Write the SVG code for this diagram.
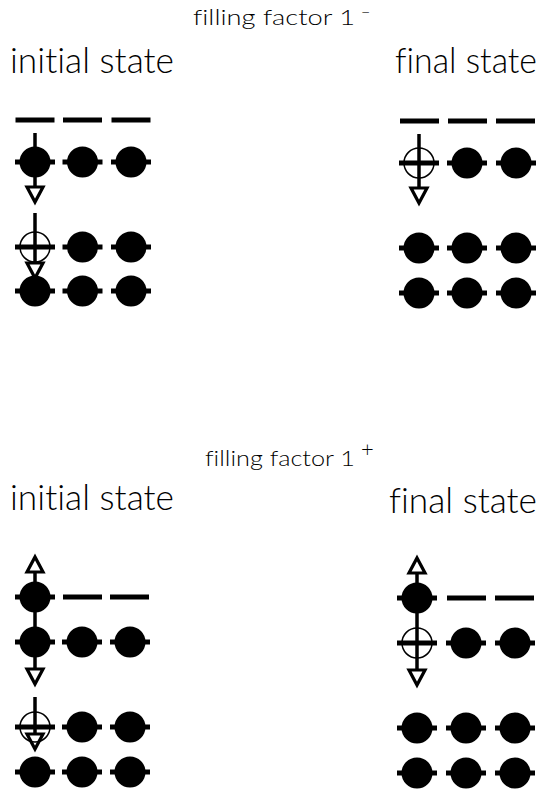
<svg xmlns="http://www.w3.org/2000/svg" xmlns:xlink="http://www.w3.org/1999/xlink" width="548" height="793" viewBox="0 0 548 793">
<style>
text{font-family:"Lato","DejaVu Sans","Liberation Sans",sans-serif;font-weight:300;fill:#000;font-variant-ligatures:none;font-feature-settings:"liga" 0}
.title{font-size:21px}
.state{font-size:36px}
.stub{stroke:#000;stroke-width:5}
.line{stroke:#000;stroke-width:3.5;fill:none}
.tri{stroke:#000;stroke-width:3.2;fill:#fff;stroke-linejoin:miter}
</style>
<defs>
<g id="particle"><line class="stub" x1="-20" y1="0" x2="20" y2="0"/><circle r="15.5" fill="#000"/></g>
<g id="hole"><line class="stub" x1="-20" y1="0" x2="20" y2="0"/><circle r="15" fill="none" stroke="#000" stroke-width="1.5"/></g>
<rect id="bar" x="-19.5" y="-2.5" width="39" height="5" fill="#000"/>
<path id="down" d="M-8,2 L8,2 L0,17 Z"/>
<path id="up" d="M-8,-2 L8,-2 L0,-17 Z"/>
</defs>
<rect width="548" height="793" fill="#fff"/>

<g id="labels">
<text class="title" x="193" y="25"><tspan textLength="162" lengthAdjust="spacingAndGlyphs">filling factor 1</tspan><tspan x="361" y="18" font-size="16">−</tspan></text>
<text class="state" x="10" y="73" textLength="164" lengthAdjust="spacingAndGlyphs">initial state</text>
<text class="state" x="395" y="73" font-size="34" textLength="142" lengthAdjust="spacingAndGlyphs">final state</text>
<text class="title" x="205" y="466"><tspan textLength="150" lengthAdjust="spacingAndGlyphs">filling factor 1</tspan><tspan x="361" y="457" font-size="22">+</tspan></text>
<text class="state" x="10" y="510" textLength="164" lengthAdjust="spacingAndGlyphs">initial state</text>
<text class="state" x="389" y="513" font-size="35" textLength="148" lengthAdjust="spacingAndGlyphs">final state</text>
</g>

<g id="connectors">
<line class="line" x1="35" y1="133" x2="35" y2="187"/>
<use xlink:href="#down" class="tri" transform="translate(35,185)"/>
<line class="line" x1="35" y1="213" x2="35" y2="263"/>
<use xlink:href="#down" class="tri" transform="translate(35,261)"/>
<line class="line" x1="419" y1="134" x2="419" y2="188"/>
<use xlink:href="#down" class="tri" transform="translate(419,186)"/>
<line class="line" x1="35" y1="572" x2="35" y2="669"/>
<use xlink:href="#up" class="tri" transform="translate(35,574)"/>
<use xlink:href="#down" class="tri" transform="translate(35,667)"/>
<line class="line" x1="35" y1="697" x2="35" y2="734"/>
<use xlink:href="#down" class="tri" transform="translate(35,732)"/>
<line class="line" x1="417" y1="573" x2="417" y2="670"/>
<use xlink:href="#up" class="tri" transform="translate(417,575)"/>
<use xlink:href="#down" class="tri" transform="translate(417,668)"/>
</g>

<g id="top-initial">
<use id="ti-b1" xlink:href="#bar" x="35" y="120"/>
<use id="ti-b2" xlink:href="#bar" x="82.5" y="120"/>
<use id="ti-b3" xlink:href="#bar" x="131" y="120"/>
<use id="ti-p11" xlink:href="#particle" x="35" y="162"/>
<use id="ti-p12" xlink:href="#particle" x="82.5" y="162"/>
<use id="ti-p13" xlink:href="#particle" x="131" y="162"/>
<use id="ti-h21" xlink:href="#hole" x="35" y="247"/>
<use id="ti-p22" xlink:href="#particle" x="82.5" y="247"/>
<use id="ti-p23" xlink:href="#particle" x="131" y="247"/>
<use id="ti-p31" xlink:href="#particle" x="35" y="291"/>
<use id="ti-p32" xlink:href="#particle" x="82.5" y="291"/>
<use id="ti-p33" xlink:href="#particle" x="131" y="291"/>
</g>

<g id="top-final">
<use id="tf-b1" xlink:href="#bar" x="419.5" y="121"/>
<use id="tf-b2" xlink:href="#bar" x="467.5" y="121"/>
<use id="tf-b3" xlink:href="#bar" x="515.5" y="121"/>
<use id="tf-h11" xlink:href="#hole" x="419" y="163"/>
<use id="tf-p12" xlink:href="#particle" x="467" y="163"/>
<use id="tf-p13" xlink:href="#particle" x="516" y="163"/>
<use id="tf-p21" xlink:href="#particle" x="419" y="248"/>
<use id="tf-p22" xlink:href="#particle" x="467" y="248"/>
<use id="tf-p23" xlink:href="#particle" x="516" y="248"/>
<use id="tf-p31" xlink:href="#particle" x="419" y="293"/>
<use id="tf-p32" xlink:href="#particle" x="467" y="293"/>
<use id="tf-p33" xlink:href="#particle" x="516" y="293"/>
</g>

<g id="bottom-initial">
<use id="bi-p11" xlink:href="#particle" x="35" y="597"/>
<use id="bi-b2" xlink:href="#bar" x="82.5" y="597"/>
<use id="bi-b3" xlink:href="#bar" x="129.5" y="597"/>
<use id="bi-p21" xlink:href="#particle" x="35" y="642"/>
<use id="bi-p22" xlink:href="#particle" x="82" y="642"/>
<use id="bi-p23" xlink:href="#particle" x="130" y="642"/>
<use id="bi-h31" xlink:href="#hole" x="35" y="727"/>
<use id="bi-p32" xlink:href="#particle" x="82" y="727"/>
<use id="bi-p33" xlink:href="#particle" x="130" y="727"/>
<use id="bi-p41" xlink:href="#particle" x="35" y="772"/>
<use id="bi-p42" xlink:href="#particle" x="82" y="772"/>
<use id="bi-p43" xlink:href="#particle" x="130" y="772"/>
</g>

<g id="bottom-final">
<use id="bf-p11" xlink:href="#particle" x="417" y="598"/>
<use id="bf-b2" xlink:href="#bar" x="466.5" y="598"/>
<use id="bf-b3" xlink:href="#bar" x="514.5" y="598"/>
<use id="bf-h21" xlink:href="#hole" x="417" y="643"/>
<use id="bf-p22" xlink:href="#particle" x="466" y="643"/>
<use id="bf-p23" xlink:href="#particle" x="515" y="643"/>
<use id="bf-p31" xlink:href="#particle" x="417" y="728"/>
<use id="bf-p32" xlink:href="#particle" x="466" y="728"/>
<use id="bf-p33" xlink:href="#particle" x="515" y="728"/>
<use id="bf-p41" xlink:href="#particle" x="417" y="773"/>
<use id="bf-p42" xlink:href="#particle" x="466" y="773"/>
<use id="bf-p43" xlink:href="#particle" x="515" y="773"/>
</g>
</svg>
